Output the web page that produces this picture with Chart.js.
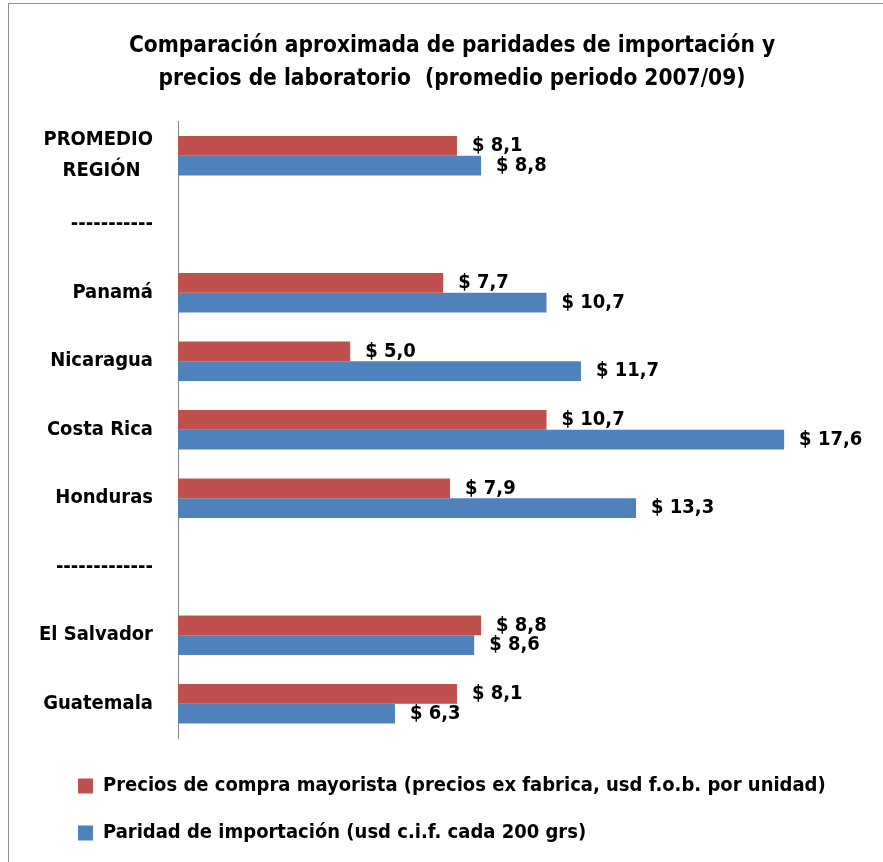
<!DOCTYPE html>
<html>
<head>
<meta charset="utf-8">
<script src="https://cdn.jsdelivr.net/npm/chart.js@4.4.1/dist/chart.umd.min.js"></script>
<style>
  body { margin: 0; background: #fff; overflow: hidden; }
  #marco { position: absolute; left: 8px; top: 3px; width: 900px; height: 900px; border: 1px solid #8e8e8e; }
  #grafico { position: absolute; left: 0; top: 0; }
</style>
</head>
<body>
<div id="marco"></div>
<canvas id="grafico" width="883" height="862"></canvas>
<script>
const titulo = ["Comparación aproximada de paridades de importación y", "precios de laboratorio  (promedio periodo 2007/09)"];
const categorias = [["PROMEDIO", "REGIÓN\u00a0\u00a0"], "-----------", "Panamá", "Nicaragua", "Costa Rica", "Honduras", "-------------", "El Salvador", "Guatemala"];
const preciosMayorista = [8.1, null, 7.7, 5.0, 10.7, 7.9, null, 8.8, 8.1];
const paridadImportacion = [8.8, null, 10.7, 11.7, 17.6, 13.3, null, 8.6, 6.3];
const nombreSerie1 = "Precios de compra mayorista (precios ex fabrica, usd f.o.b. por unidad)";
const nombreSerie2 = "Paridad de importación (usd c.i.f. cada 200 grs)";

const fuente = '"DejaVu Sans Condensed", "DejaVu Sans", sans-serif';

// etiquetas "$ x,x" al final de cada barra
const etiquetas = {
    id: 'etiquetas',
    afterLayout(chart) {
        // leyenda y titulo un poco corridos a la derecha, como en el original
        chart.legend.left += 21;
        chart.titleBlock.left += 21;
    },
    afterDatasetsDraw(chart) {
        const ctx = chart.ctx;
        ctx.save();
        ctx.font = 'bold 20px ' + fuente;
        ctx.fillStyle = '#000';
        ctx.textAlign = 'left';
        ctx.textBaseline = 'middle';
        chart.data.datasets.forEach((ds, i) => {
            chart.getDatasetMeta(i).data.forEach((barra, j) => {
                const v = ds.data[j];
                if (v == null) return;
                ctx.fillText('$ ' + v.toFixed(1).replace('.', ','), barra.x + 15, barra.y);
            });
        });
        ctx.restore();
    }
};

const ctx = document.getElementById('grafico').getContext('2d');
const grafico = new Chart(ctx, {
    type: 'bar',
    data: {
        labels: categorias,
        datasets: [
            {
                label: nombreSerie1,
                data: preciosMayorista,
                backgroundColor: '#C0504D',
                borderWidth: 0,
                barPercentage: 1,
                categoryPercentage: 0.58
            },
            {
                label: nombreSerie2,
                data: paridadImportacion,
                backgroundColor: '#4F81BD',
                borderWidth: 0,
                barPercentage: 1,
                categoryPercentage: 0.58
            }
        ]
    },
    options: {
        indexAxis: 'y',
        responsive: false,
        animation: false,
        layout: { padding: { left: 30, right: 30, top: 0, bottom: 9 } },
        scales: {
            x: {
                min: 0,
                max: 19.6,
                grid: { display: false, drawTicks: false },
                border: { display: false },
                ticks: { display: false },
                afterFit: (s) => { s.height = 11; }
            },
            y: {
                grid: { display: false, drawTicks: false },
                border: { display: true, color: '#868686', width: 1 },
                ticks: {
                    color: '#000',
                    padding: 25,
                    font: { family: fuente, size: 20, weight: 'bold', lineHeight: 1.55 }
                },
                afterFit: (s) => { s.width = 148; }
            }
        },
        plugins: {
            title: {
                display: true,
                text: titulo,
                color: '#000',
                font: { family: fuente, size: 22.5, weight: 'bold', lineHeight: 1.5 },
                padding: { top: 29, bottom: 25 }
            },
            legend: {
                position: 'bottom',
                align: 'start',
                labels: {
                    color: '#000',
                    boxWidth: 15,
                    boxHeight: 15,
                    padding: 27,
                    font: { family: fuente, size: 20, weight: 'bold' }
                }
            },
            tooltip: { enabled: false }
        }
    },
    plugins: [etiquetas]
});
</script>
</body>
</html>
